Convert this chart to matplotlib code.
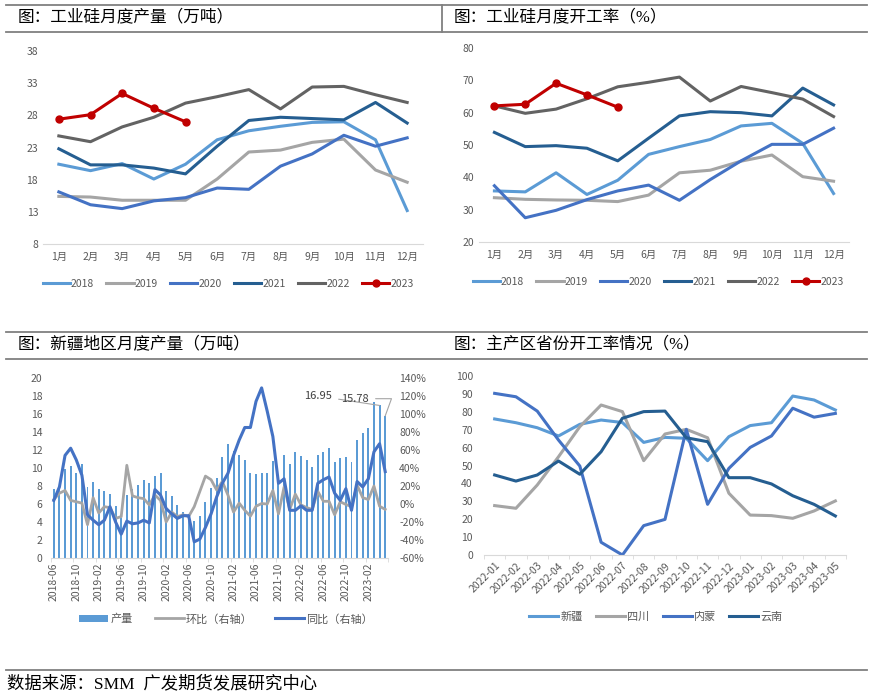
import numpy as np
import pandas as pd
import matplotlib
matplotlib.use("Agg")
import matplotlib.pyplot as plt
from matplotlib.lines import Line2D
from matplotlib.ticker import FuncFormatter

plt.rcParams['font.family'] = ['Noto Sans CJK SC', 'DejaVu Sans']

## ---------------- data ----------------
month_labels = [f"{m}月" for m in range(1, 13)]
years = ['2018', '2019', '2020', '2021', '2022', '2023']

# 工业硅月度产量 (万吨)
prod_2018 = [20.4, 19.4, 20.5, 18.1, 20.4, 24.2, 25.6, 26.3, 26.9, 27.0, 24.2, 13.2]
prod_2019 = [15.4, 15.3, 14.8, 14.8, 14.8, 18.1, 22.3, 22.6, 23.8, 24.3, 19.5, 17.6]
prod_2020 = [16.1, 14.1, 13.5, 14.7, 15.2, 16.7, 16.5, 20.1, 22.0, 24.9, 23.2, 24.5]
prod_2021 = [22.8, 20.3, 20.3, 19.8, 18.9, 23.2, 27.2, 27.7, 27.5, 27.3, 30.0, 26.8]
prod_2022 = [24.8, 23.9, 26.2, 27.7, 29.9, 30.9, 32.0, 29.0, 32.4, 32.5, 31.2, 30.0]
prod_2023 = [27.4, 28.1, 31.4, 29.1, 27.0]

# 工业硅月度开工率 (%)
rate_2018 = [35.8, 35.5, 41.4, 34.7, 39.1, 47.1, 49.5, 51.7, 55.9, 56.7, 50.5, 35.0]
rate_2019 = [33.7, 33.2, 33.0, 32.9, 32.5, 34.5, 41.4, 42.2, 45.0, 46.9, 40.2, 38.8]
rate_2020 = [37.4, 27.5, 29.8, 33.1, 35.8, 37.6, 32.9, 39.3, 45.1, 50.2, 50.2, 55.2]
rate_2021 = [53.9, 49.5, 49.8, 49.0, 45.1, 52.1, 59.0, 60.3, 60.0, 59.0, 67.6, 62.4]
rate_2022 = [62.1, 59.8, 61.1, 64.3, 68.0, 69.4, 71.0, 63.6, 68.1, 66.2, 64.2, 58.8]
rate_2023 = [62.1, 62.6, 69.1, 65.5, 61.7]

# 新疆地区月度产量 2018-06 ~ 2023-05
xj_months = pd.date_range('2018-06-01', periods=60, freq='MS').strftime('%Y-%m').tolist()
xj_output = [7.7, 8.0, 9.9, 10.2, 9.5, 10.5, 7.9, 8.5, 7.7, 7.5, 7.1, 5.8,
             4.5, 7.0, 7.7, 8.1, 8.7, 8.3, 9.1, 9.4, 7.4, 6.9, 5.9, 5.1,
             4.9, 4.1, 4.7, 6.2, 7.8, 8.9, 11.2, 12.7, 11.9, 11.5, 10.9, 9.4,
             9.3, 9.4, 9.4, 10.8, 8.6, 11.4, 10.4, 11.8, 11.3, 10.9, 10.1, 11.5,
             11.8, 12.2, 10.7, 11.1, 11.2, 10.7, 13.1, 13.9, 14.4, 17.3, 16.95, 15.78]
xj_mom = [5, 12, 15, 4, 2.5, 1, -23, 7, -10, -3, -4, -16,
          -14, 43, 9, 7, 6, -1, 10, 4, -20, -9, -14, -12,
          -14, -3, 14, 31, 27, 15.5, 25, 10, -9, 1, -7, -13.5,
          -2.5, 0.5, 0, 15, -11, 19, -6, 11, -1, -4, -6, 14,
          3, 3, -12, 2.5, -0.5, -3, 21, 7, 5, 20, -2.5, -6]
xj_yoy = [4, 19, 54, 62, 49, 32, -12, -18, -23, -18, -3, -20,
          -33.5, -19, -22, -21, -18, -21, 16, 10, -5, -11, -16, -13,
          -13, -42, -39, -26, -11, 8, 23, 34, 54, 71, 85, 85,
          114, 129, 103, 75, 23, 28, -7, -7, -2, -7, -7, 23,
          27, 30, 12, 4, 17, -7, 25, 19, 28, 58, 67, 36]

# 主产区省份开工率
prov_months = pd.date_range('2022-01-01', periods=17, freq='MS').strftime('%Y-%m').tolist()
prov_names = ['新疆', '四川', '内蒙', '云南']
rate_xinjiang = [76.0, 73.9, 71.1, 66.5, 73.0, 75.4, 74.0, 62.9, 65.7, 65.2, 52.7, 66.1,
                 72.3, 73.9, 88.8, 86.6, 81.0]
rate_sichuan = [27.6, 26.1, 39.1, 54.9, 71.7, 83.8, 80.1, 52.7, 67.6, 70.2, 65.5, 34.5,
                22.3, 22.0, 20.5, 24.6, 30.2]
rate_neimeng = [90.3, 88.4, 80.4, 64.2, 49.7, 7.1, 0.0, 16.4, 19.9, 70.2, 28.3, 48.4,
                60.1, 66.5, 82.0, 77.0, 79.1]
rate_yunnan = [44.7, 41.3, 44.7, 52.5, 45.1, 57.7, 76.4, 80.1, 80.4, 65.5, 63.3, 43.2,
               43.2, 39.7, 33.1, 28.3, 21.8]

## ---------------- styles ----------------
year_colors = ['#5B9BD5', '#A5A5A5', '#4472C4', '#255E91', '#636363', '#C00000']
tick_color = '#595959'
axis_color = '#D9D9D9'
rule_color = '#808080'
title_font = ['Liberation Serif', 'Noto Sans CJK SC']
fs = 7.5

W, H = 872, 696
fig = plt.figure(figsize=(W / 100, H / 100), dpi=100)


def px_axes(x0, y0, x1, y1):
    ## axes from a pixel box (origin top-left)
    return fig.add_axes([x0 / W, 1 - y1 / H, (x1 - x0) / W, (y1 - y0) / H])


def style_axes(ax):
    for s in ['top', 'right', 'left']:
        ax.spines[s].set_visible(False)
    ax.spines['bottom'].set_color(axis_color)
    ax.tick_params(axis='both', colors=tick_color, labelsize=fs, length=0)


def hline(y, x0=6, x1=867):
    fig.add_artist(Line2D([x0 / W, x1 / W], [1 - y / H, 1 - y / H], color=rule_color, lw=1.3))


## ---------------- header rules & titles ----------------
hline(5)
hline(32)
fig.add_artist(Line2D([442 / W, 442 / W], [1 - 5 / H, 1 - 32 / H], color=rule_color, lw=1.3))
hline(332)
hline(359)
hline(670)

for tx, ty, txt in [(18, 17, '图：工业硅月度产量（万吨）'),
                    (454, 17, '图：工业硅月度开工率（%）'),
                    (18, 344, '图：新疆地区月度产量（万吨）'),
                    (454, 344, '图：主产区省份开工率情况（%）')]:
    fig.text(tx / W, 1 - ty / H, txt, family=title_font, fontsize=12,
             va='center', ha='left', color='black')
fig.text(7 / W, 1 - 684 / H, '数据来源：SMM  广发期货发展研究中心', family=title_font, fontsize=12.5,
         va='center', ha='left', color='black')

months = np.arange(1, 13)

## ---------------- top-left: 产量 ----------------
ax1 = px_axes(43, 51, 423, 244)
prod = [prod_2018, prod_2019, prod_2020, prod_2021, prod_2022, prod_2023]
for yr, vals, c in zip(years, prod, year_colors):
    x = months[:len(vals)]
    if yr == '2023':
        ax1.plot(x, vals, color=c, lw=2.2, marker='o', ms=5, label=yr)
    else:
        ax1.plot(x, vals, color=c, lw=2.2, label=yr)
ax1.set_xlim(0.5, 12.5)
ax1.set_ylim(8, 38)
ax1.set_yticks(np.arange(8, 39, 5))
ax1.set_xticks(months)
ax1.set_xticklabels(month_labels)
style_axes(ax1)
ax1.tick_params(axis='x', pad=6)
h, l = ax1.get_legend_handles_labels()
fig.legend(h, l, loc='center', bbox_to_anchor=(228 / W, 1 - 284 / H), ncol=6, frameon=False,
           fontsize=fs, handlelength=2.6, handletextpad=0.1, columnspacing=1.2, labelcolor=tick_color)

## ---------------- top-right: 开工率 ----------------
ax2 = px_axes(479, 48, 849, 242)
rates = [rate_2018, rate_2019, rate_2020, rate_2021, rate_2022, rate_2023]
for yr, vals, c in zip(years, rates, year_colors):
    x = months[:len(vals)]
    if yr == '2023':
        ax2.plot(x, vals, color=c, lw=2.2, marker='o', ms=5, label=yr)
    else:
        ax2.plot(x, vals, color=c, lw=2.2, label=yr)
ax2.set_xlim(0.5, 12.5)
ax2.set_ylim(20, 80)
ax2.set_yticks(np.arange(20, 81, 10))
ax2.set_xticks(months)
ax2.set_xticklabels(month_labels)
style_axes(ax2)
ax2.tick_params(axis='x', pad=6)
h, l = ax2.get_legend_handles_labels()
fig.legend(h, l, loc='center', bbox_to_anchor=(658 / W, 1 - 282 / H), ncol=6, frameon=False,
           fontsize=fs, handlelength=2.6, handletextpad=0.1, columnspacing=1.2, labelcolor=tick_color)

## ---------------- bottom-left: 新疆产量 ----------------
ax3 = px_axes(51, 378, 388, 558)
idx = np.arange(len(xj_months))
ax3.bar(idx, xj_output, width=0.35, color='#5B9BD5', label='产量', zorder=1)
ax3.set_xlim(-0.5, len(xj_months) - 0.5)
ax3.set_ylim(0, 20)
ax3.set_yticks(np.arange(0, 21, 2))
ax3.set_xticks(idx[::4])
ax3.set_xticklabels(xj_months[::4], rotation=90)
ax3.set_xticks(np.arange(-0.5, len(xj_months), 4), minor=True)
style_axes(ax3)
ax3.tick_params(axis='x', which='minor', length=3, color=axis_color)
ax3.tick_params(axis='x', which='major', pad=3)
ax3.tick_params(axis='y', pad=6)

ax3r = ax3.twinx()
ax3r.plot(idx, xj_mom, color='#A5A5A5', lw=2, label='环比（右轴）', zorder=2)
ax3r.plot(idx, xj_yoy, color='#4472C4', lw=2.2, label='同比（右轴）', zorder=3)
ax3r.set_ylim(-60, 140)
ax3r.set_yticks(np.arange(-60, 141, 20))
ax3r.yaxis.set_major_formatter(FuncFormatter(lambda v, p: f'{v:.0f}%'))
for s in ['top', 'left', 'right', 'bottom']:
    ax3r.spines[s].set_visible(False)
ax3r.tick_params(axis='y', colors=tick_color, labelsize=fs, length=0, pad=8)

## data labels on the last two bars (left axis value mapped to right axis scale)
to_right = lambda v: v / 20 * 200 - 60
ax3r.annotate(f'{xj_output[-2]:.2f}', xy=(58, to_right(xj_output[-2])), xytext=(47, 120),
              fontsize=8, color='#404040', va='center', ha='center',
              arrowprops=dict(arrowstyle='-', color='#A5A5A5', lw=0.8, shrinkA=3, shrinkB=0))
ax3r.annotate(f'{xj_output[-1]:.2f}', xy=(59, to_right(xj_output[-1])), xytext=(53.6, 117),
              fontsize=8, color='#404040', va='center', ha='center',
              arrowprops=dict(arrowstyle='-', color='#A5A5A5', lw=0.8, shrinkA=3, shrinkB=0,
                              connectionstyle='angle,angleA=0,angleB=70,rad=0'))

h1, l1 = ax3.get_legend_handles_labels()
h2, l2 = ax3r.get_legend_handles_labels()
fig.legend(h1 + h2, l1 + l2, loc='center', bbox_to_anchor=(226 / W, 1 - 619 / H), ncol=3, frameon=False,
           fontsize=fs + 0.5, handlelength=2.6, handletextpad=0.2, columnspacing=2.0, labelcolor=tick_color)

## ---------------- bottom-right: 省份开工率 ----------------
ax4 = px_axes(484, 376, 846, 555)
pidx = np.arange(len(prov_months))
prov_vals = [rate_xinjiang, rate_sichuan, rate_neimeng, rate_yunnan]
prov_colors = ['#5B9BD5', '#A5A5A5', '#4472C4', '#255E91']
for name, vals, c in zip(prov_names, prov_vals, prov_colors):
    ax4.plot(pidx, vals, color=c, lw=2.2, label=name)
ax4.set_xlim(-0.5, len(prov_months) - 0.5)
ax4.set_ylim(0, 100)
ax4.set_yticks(np.arange(0, 101, 10))
ax4.set_xticks(pidx)
ax4.set_xticklabels(prov_months, rotation=45, ha='right', rotation_mode='anchor')
ax4.set_xticks(np.arange(-0.5, len(prov_months), 1), minor=True)
style_axes(ax4)
ax4.tick_params(axis='x', which='minor', length=3, color=axis_color)
ax4.tick_params(axis='x', which='major', pad=4)
ax4.tick_params(axis='y', pad=8)
h, l = ax4.get_legend_handles_labels()
fig.legend(h, l, loc='center', bbox_to_anchor=(656 / W, 1 - 617 / H), ncol=4, frameon=False,
           fontsize=fs + 0.5, handlelength=2.6, handletextpad=0.2, columnspacing=1.2, labelcolor=tick_color)

fig.savefig('out.png', dpi=100)
